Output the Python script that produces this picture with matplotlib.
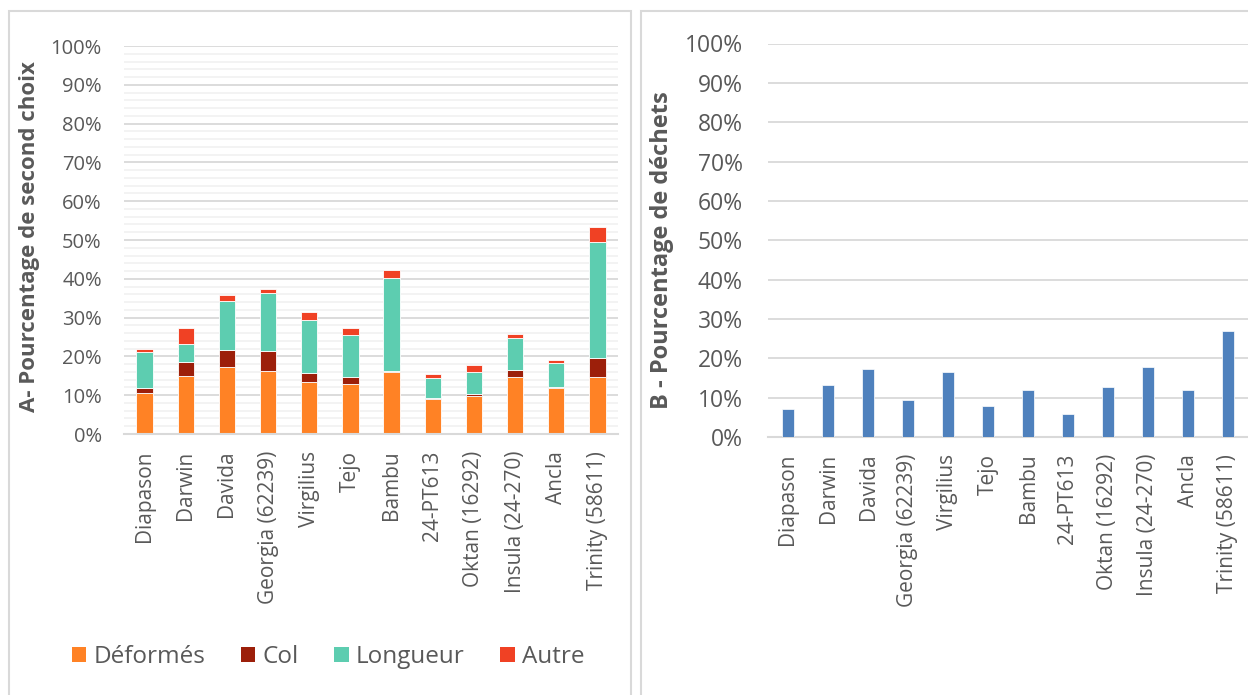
import matplotlib
matplotlib.use("Agg")
import matplotlib.pyplot as plt
from matplotlib.patches import Rectangle, Patch
from matplotlib.ticker import FuncFormatter, MultipleLocator
import numpy as np

plt.rcParams['font.family'] = ['Open Sans', 'DejaVu Sans']

categories = ["Diapason", "Darwin", "Davida", "Georgia (62239)", "Virgilius", "Tejo",
              "Bambu", "24-PT613", "Oktan (16292)", "Insula (24-270)", "Ancla", "Trinity (58611)"]

deformes = [10.6, 14.9, 17.2, 16.2, 13.5, 12.8, 16.0, 9.1, 9.9, 14.7, 11.9, 14.7]
col      = [1.2, 3.6, 4.4, 5.1, 2.1, 1.9, 0.2, 0.3, 0.4, 1.8, 0.3, 5.0]
longueur = [9.3, 4.8, 12.6, 15.0, 13.7, 10.8, 24.0, 5.0, 5.7, 8.2, 6.1, 29.7]
autre    = [0.8, 3.9, 1.7, 1.0, 2.1, 1.8, 2.0, 1.0, 1.9, 1.2, 0.8, 3.9]

dechets = [7.1, 13.3, 17.4, 9.4, 16.4, 7.9, 11.9, 5.8, 12.6, 17.8, 12.0, 27.0]

series_names = ["Déformés", "Col", "Longueur", "Autre"]
series_colors = ["#FF8225", "#9C1F0A", "#5DCDB0", "#F04124"]

W, H = 1248, 695
fig = plt.figure(figsize=(W / 100, H / 100), dpi=100)
fig.patch.set_facecolor("white")

def fx(px):
    return px / W

def fy(py):
    return (H - py) / H

# panel borders
fig.add_artist(Rectangle((fx(9), fy(700)), fx(631) - fx(9), fy(11) - fy(700),
                         transform=fig.transFigure, fill=False, edgecolor="#d9d9d9", lw=1.5))
fig.add_artist(Rectangle((fx(641), fy(700)), fx(1260) - fx(641), fy(11) - fy(700),
                         transform=fig.transFigure, fill=False, edgecolor="#d9d9d9", lw=1.5))

tick_color = "#595959"
pct = FuncFormatter(lambda v, p: f"{int(round(v))}%")

# ---- Left chart ----
axA = fig.add_axes([fx(124), fy(434), fx(618) - fx(124), fy(46) - fy(434)])
x = np.arange(len(categories))
bottom = np.zeros(len(categories))
for name, vals, c in zip(series_names, [deformes, col, longueur, autre], series_colors):
    axA.bar(x, vals, 0.4, bottom=bottom, color=c, edgecolor="white", linewidth=0.6,
            label=name, zorder=3)
    bottom += np.array(vals)
axA.set_xlim(-0.5, len(categories) - 0.5)
axA.set_ylim(0, 100)
axA.yaxis.set_major_locator(MultipleLocator(10))
axA.yaxis.set_minor_locator(MultipleLocator(2))
axA.yaxis.set_major_formatter(pct)
axA.grid(which="minor", axis="y", color="#f2f2f2", lw=1.3, zorder=0)
axA.grid(which="major", axis="y", color="#d9d9d9", lw=1.3, zorder=1)
axA.set_xticks(x)
axA.set_xticklabels(categories, rotation=90, fontsize=15, color=tick_color)
axA.tick_params(axis="x", length=0, pad=12)
axA.tick_params(axis="y", which="both", length=0, pad=16, labelsize=14.5, labelcolor=tick_color)
for s in ["top", "right", "left"]:
    axA.spines[s].set_visible(False)
axA.spines["bottom"].set_color("#d9d9d9")
axA.spines["bottom"].set_linewidth(1.5)
axA.spines["bottom"].set_zorder(4)

fig.text(fx(30), fy(237), "A- Pourcentage de second choix", rotation=90, ha="center",
         va="center", fontsize=16, fontweight="bold", color=tick_color)

handles = [Patch(facecolor=c, edgecolor="none") for c in series_colors]
fig.legend(handles, series_names, loc="center", bbox_to_anchor=(fx(328), fy(657)),
           ncol=4, frameon=False, fontsize=17.5, labelcolor=tick_color,
           handlelength=0.6, handleheight=0.6, handletextpad=0.3, columnspacing=1.45)

# ---- Right chart ----
axB = fig.add_axes([fx(768), fy(437), fx(1248) - fx(768), fy(43.5) - fy(437)])
axB.bar(x, dechets, 0.32, color="#4F81BD", edgecolor="white", linewidth=0.5, zorder=3)
axB.set_xlim(-0.5, len(categories) - 0.5)
axB.set_ylim(0, 100)
axB.yaxis.set_major_locator(MultipleLocator(10))
axB.yaxis.set_major_formatter(pct)
axB.grid(which="major", axis="y", color="#d9d9d9", lw=1.3, zorder=0)
axB.set_xticks(x)
axB.set_xticklabels(categories, rotation=90, fontsize=15, color=tick_color)
axB.tick_params(axis="x", length=0, pad=12)
axB.tick_params(axis="y", length=0, pad=18, labelsize=16.5, labelcolor=tick_color)
for s in ["top", "right", "left"]:
    axB.spines[s].set_visible(False)
axB.spines["bottom"].set_color("#d9d9d9")
axB.spines["bottom"].set_linewidth(1.5)

fig.text(fx(662), fy(250), "B - Pourcentage de déchets", rotation=90, ha="center",
         va="center", fontsize=17, fontweight="bold", color=tick_color)

fig.savefig("out.png", dpi=100, facecolor="white")
